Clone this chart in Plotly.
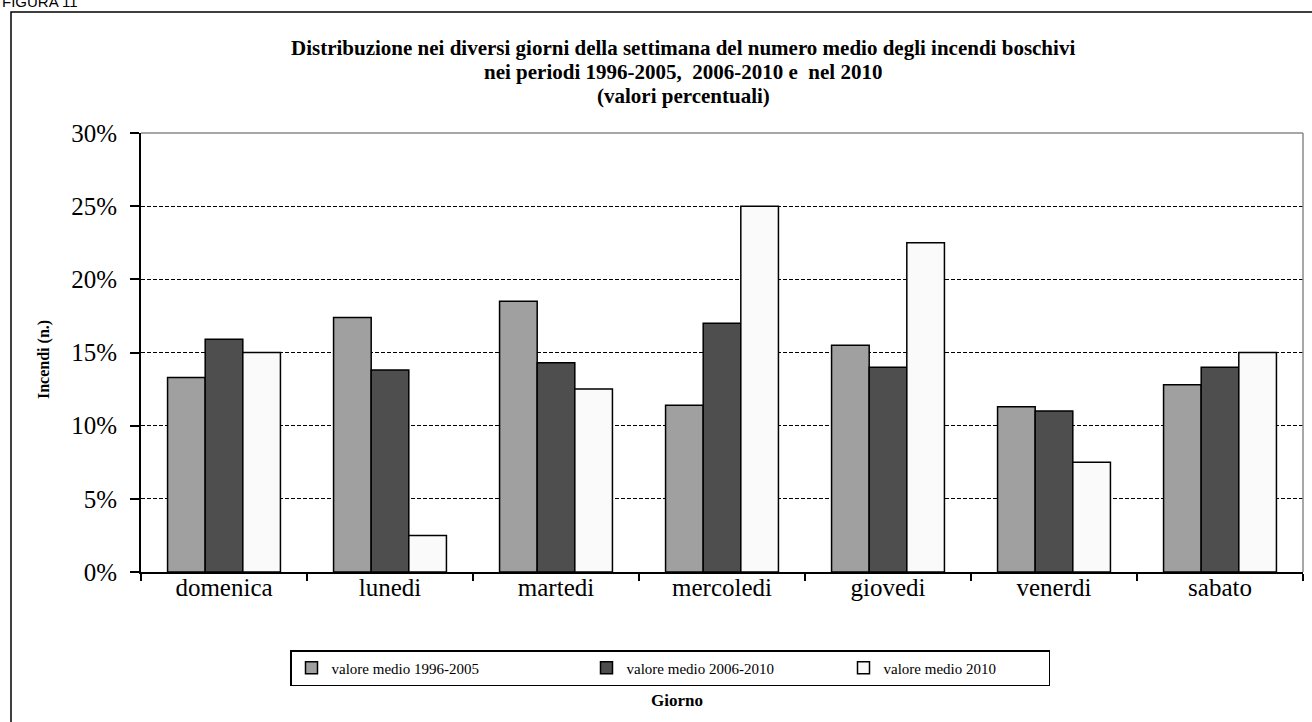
import plotly.graph_objects as go

# ---------------- data ----------------
giorni = ["domenica", "lunedi", "martedi", "mercoledi", "giovedi", "venerdi", "sabato"]
serie_nomi = ["valore medio 1996-2005", "valore medio 2006-2010", "valore medio 2010"]
media_1996_2005 = [13.3, 17.4, 18.5, 11.4, 15.5, 11.3, 12.8]
media_2006_2010 = [15.9, 13.8, 14.3, 17.0, 14.0, 11.0, 14.0]
media_2010 = [15.0, 2.5, 12.5, 25.0, 22.5, 7.5, 15.0]
y_ticks = [0, 5, 10, 15, 20, 25, 30]
y_tick_labels = [f"{v}%" for v in y_ticks]

titolo_righe = [
    "Distribuzione nei diversi giorni della settimana del numero medio degli incendi boschivi",
    "nei periodi 1996-2005,  2006-2010 e  nel 2010",
    "(valori percentuali)",
]

# ---------------- layout geometry ----------------
W, H = 1312, 722
L, R, T, B = 141, 9, 133, 150
PW, PH = W - L - R, H - T - B


def px(x):
    return (x - L) / PW


def py(y):
    return (H - B - y) / PH


SERIF = "Liberation Serif"
colori = ["#A0A0A0", "#4E4E4E", "#FAFAFA"]
larghezze_legenda = [250, 212, 160]

fig = go.Figure()
for nome, vals, col, lw in zip(serie_nomi, [media_1996_2005, media_2006_2010, media_2010],
                               colori, larghezze_legenda):
    fig.add_trace(go.Bar(
        x=giorni, y=vals, name=nome, legendwidth=lw,
        marker=dict(color=col, line=dict(color="black", width=1.5)),
    ))

fig.update_layout(
    width=W, height=H,
    margin=dict(l=L, r=R, t=T, b=B, pad=0),
    paper_bgcolor="white", plot_bgcolor="white",
    barmode="group", bargap=0.32, bargroupgap=0,
    font=dict(family=SERIF, color="black"),
    showlegend=True,
    legend=dict(
        orientation="h",
        x=px(290), xanchor="left",
        y=py(650), yanchor="top",
        bordercolor="black", borderwidth=1.5,
        font=dict(family=SERIF, size=15, color="black"),
        itemclick=False,
        traceorder="normal",
    ),
)

fig.update_yaxes(
    range=[0, 30], tickvals=y_ticks, ticktext=y_tick_labels,
    showline=True, linecolor="black", linewidth=2,
    ticks="outside", ticklen=9, tickwidth=1.5, tickcolor="black",
    showgrid=True, gridcolor="black", gridwidth=1, griddash="4px,2px",
    zeroline=False,
    tickfont=dict(family=SERIF, size=25, color="black"),
    ticklabelstandoff=8,
)
fig.update_xaxes(
    showline=True, linecolor="black", linewidth=1.5,
    ticks="outside", tickson="boundaries", ticklen=7, tickwidth=1.5, tickcolor="black",
    showgrid=False,
    tickfont=dict(family=SERIF, size=25, color="black"),
    ticklabelstandoff=-8,
)

# plot area border (top and right, gray)
fig.add_shape(type="line", xref="paper", yref="paper", x0=0, x1=1, y0=1, y1=1,
              line=dict(color="#8A8A8A", width=1.5))
fig.add_shape(type="line", xref="paper", yref="paper", x0=1, x1=1, y0=0, y1=1,
              line=dict(color="#8A8A8A", width=1.5))
# outer chart frame
fig.add_shape(type="rect", xref="paper", yref="paper",
              x0=px(11), x1=px(W + 20), y0=py(H + 20), y1=py(12),
              line=dict(color="black", width=1.5), layer="below")

# title lines
for testo, yc in zip(titolo_righe, [48, 72, 96]):
    fig.add_annotation(text="<b>" + testo + "</b>", xref="paper", yref="paper",
                       x=px(683), y=py(yc), xanchor="center", yanchor="middle",
                       showarrow=False, font=dict(family=SERIF, size=21, color="black"))

# axis titles
fig.add_annotation(text="<b>Incendi (n.)</b>", xref="paper", yref="paper",
                   x=px(44), y=py(360), xanchor="center", yanchor="middle",
                   textangle=-90, showarrow=False,
                   font=dict(family=SERIF, size=16, color="black"))
fig.add_annotation(text="<b>Giorno</b>", xref="paper", yref="paper",
                   x=px(677), y=py(700), xanchor="center", yanchor="middle",
                   showarrow=False, font=dict(family=SERIF, size=17, color="black"))

# figure label, partly cut at the top edge
fig.add_annotation(text="FIGURA 11", xref="paper", yref="paper",
                   x=px(0), y=py(2), xanchor="left", yanchor="middle",
                   showarrow=False, font=dict(family="Liberation Sans", size=15, color="black"))

fig.write_html("out.html")
